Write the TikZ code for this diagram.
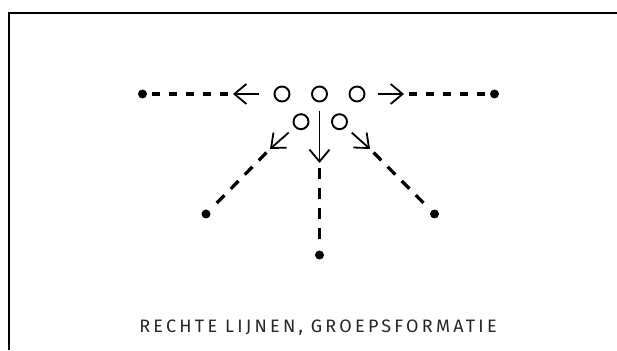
\documentclass[tikz,border=0pt]{standalone}
\usepackage{fontspec}
\setmainfont{Fira Sans}[LetterSpace=18]
\usetikzlibrary{arrows.meta}
\begin{document}
\begin{tikzpicture}[x=1pt,y=1pt,
    player/.style={circle,draw,line width=1.9pt,minimum size=15pt,inner sep=0pt},
    spot/.style={circle,fill,minimum size=9pt,inner sep=0pt},
    move/.style={line width=1.8pt,-{Straight Barb[length=12pt,width=20pt]}},
    run/.style={line width=3.3pt,dash pattern=on 8pt off 9pt,shorten <=5pt,shorten >=5pt}]

                \useasboundingbox (0,0) rectangle (617,350);
                \draw[line width=2.2pt] (9,0) -- (9,337) -- (617,337);

                % players
                \node[player] (p1) at (282,256) {};
                \node[player] (p2) at (319.5,256) {};
                \node[player] (p3) at (357,256) {};
                \node[player] (q1) at (301,228.3) {};
                \node[player] (q2) at (339.5,228.3) {};

                % end points
                \node[spot] (e1) at (142.5,256) {};
                \node[spot] (e2) at (494.5,256) {};
                \node[spot] (e3) at (319.5,95) {};
                \node[spot] (e4) at (206,136) {};
                \node[spot] (e5) at (434.5,136) {};

                \coordinate (t1) at (233,256);
                \coordinate (t2) at (404,256);
                \coordinate (t3) at (319.5,187);
                \coordinate (t4) at (270,201);
                \coordinate (t5) at (370,201);

                \draw[move,shorten <=15pt] (p1) -- (t1);
                \draw[move,shorten <=13pt] (p3) -- (t2);
                \draw[move,shorten <=8.5pt] (p2) -- (t3);
                \draw[move,shorten <=8pt] (q1) -- (t4);
                \draw[move,shorten <=8pt] (q2) -- (t5);

                \draw[run] (t1) -- (e1);
                \draw[run] (t2) -- (e2);
                \draw[run,dash pattern=on 11pt off 9pt] (t3) -- (e3);
                \draw[run,dash pattern=on 11pt off 9pt] (t4) -- (e4);
                \draw[run,dash pattern=on 11pt off 9pt] (t5) -- (e5);

                \node[anchor=base,font=\fontsize{18}{20}\selectfont,text=black!85] (caption) at (318,17) {RECHTE LIJNEN, GROEPSFORMATIE};
\end{tikzpicture}
\end{document}
